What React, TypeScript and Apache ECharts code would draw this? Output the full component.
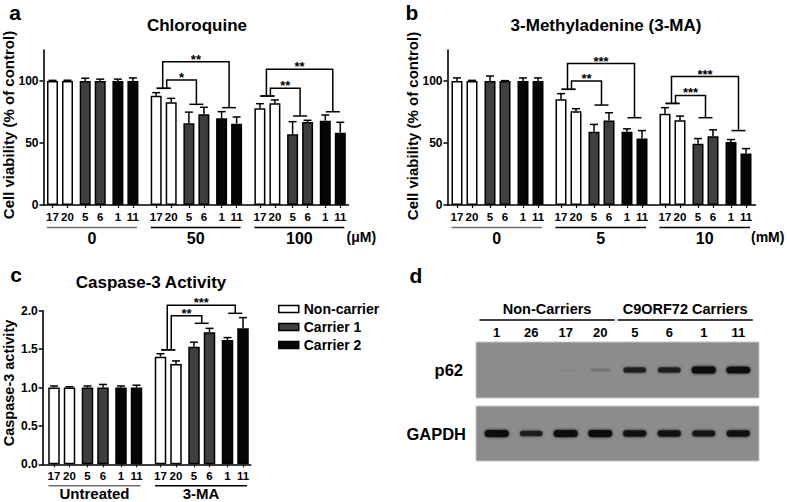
import React, { useEffect, useRef } from "react";
import * as echarts from "echarts";

const FONT = "'Liberation Sans', Arial, Helvetica, sans-serif";

// ---------- data ----------
const cellLines = ["17", "20", "5", "6", "1", "11"];
const genotypes = ["Non-carrier", "Carrier 1", "Carrier 2"];
const genotypeColors = ["#ffffff", "#3f3f3f", "#050505"];

// panel a : Chloroquine (% of control), rows = dose groups, cols = cell lines
const chloroquineDoses = ["0", "50", "100"];
const chloroquineMean = [
  [100, 100, 100, 100, 100, 100],
  [88.1, 82.8, 65.9, 73.1, 69.9, 65.6],
  [78, 82, 57, 66.9, 68, 58.3],
];
const chloroquineSem = [
  [0.5, 0.6, 2.2, 1.5, 1.5, 2.5],
  [2.5, 3.2, 9, 5.7, 5.4, 5.4],
  [3.7, 2.7, 10.2, 1.4, 4.6, 8.4],
];
// [group, target pair, bracket top, left cap, right cap, stars]
const chloroquineSig: [number, number, number, number, number, string][] = [
  [1, 2, 115.6, 94.1, 78.5, "**"],
  [1, 1, 100.8, 94.1, 81.2, "*"],
  [2, 2, 109.4, 87.9, 75.2, "**"],
  [2, 1, 94.1, 87.9, 71.8, "**"],
];

// panel b : 3-MA (% of control)
const maDoses = ["0", "5", "10"];
const maMean = [
  [100, 100, 100, 100, 100, 100],
  [85.2, 75.7, 59, 68.2, 59, 53.6],
  [73.6, 68.4, 49.3, 55.5, 50.9, 41.5],
];
const maSem = [
  [2.5, 0.5, 4, 0.3, 2.5, 2.5],
  [4.6, 1.9, 6, 6.2, 2.4, 6.4],
  [4.9, 3.3, 4.3, 5.1, 1.9, 4],
];
const maSig: [number, number, number, number, number, string][] = [
  [1, 2, 114.1, 93.3, 70.4, "***"],
  [1, 1, 100, 93.3, 80.6, "**"],
  [2, 2, 103.6, 81.9, 60, "***"],
  [2, 1, 88.4, 81.9, 70.4, "***"],
];

// panel c : Caspase-3 activity
const caspaseGroups = ["Untreated", "3-MA"];
const caspaseMean = [
  [1, 1, 1, 1, 1, 1],
  [1.4, 1.306, 1.53, 1.72, 1.62, 1.77],
];
const caspaseSem = [
  [0.02, 0.01, 0.02, 0.04, 0.02, 0.03],
  [0.04, 0.04, 0.06, 0.05, 0.03, 0.14],
];
const caspaseSig: [number, number, number, number, number, string][] = [
  [1, 2, 2.07, 1.49, 1.966, "***"],
  [1, 1, 1.935, 1.49, 1.836, "**"],
];

// panel d : western blot
const blotLanes = ["1", "26", "17", "20", "5", "6", "1", "11"];
const blotGroups = ["Non-Carriers", "C9ORF72 Carriers"];
const p62Band = [0, 0, 0.04, 0.15, 0.72, 0.72, 1, 0.93];
const gapdhBand = [1, 0.72, 1, 0.95, 0.85, 0.85, 0.8, 0.85];

// ---------- layout ----------
type Layout = {
  left: number; top: number; width: number; height: number;
  pad: number; group: number; pair: number; within: number; barW: number; unitShift: number;
  lineOff: number; labelOff: number; labelSize: number;
};
const LA: Layout = { left: 43.5, top: 50, width: 305, height: 155, pad: 9, group: 103.7, pair: 32.7, within: 15, barW: 11, unitShift: -2, lineOff: 22.5, labelOff: 33.5, labelSize: 16 };
const LB: Layout = { left: 447.5, top: 50, width: 308, height: 155, pad: 9.5, group: 104, pair: 33, within: 15, barW: 11, unitShift: -4.5, lineOff: 22.5, labelOff: 33.5, labelSize: 16 };
const LC: Layout = { left: 42.7, top: 310.7, width: 208, height: 153.6, pad: 11.3, group: 106.5, pair: 33.5, within: 15.5, barW: 11.5, unitShift: 0, lineOff: 21.4, labelOff: 29.5, labelSize: 15 };

const barX = (L: Layout, g: number, i: number) =>
  L.pad + g * L.group + Math.floor(i / 2) * L.pair + (i % 2) * L.within;

const bold = (size: number) => `bold ${size}px ${FONT}`;

function buildPanel(
  gi: number, L: Layout, groups: string[], mean: number[][], sem: number[][],
  sig: [number, number, number, number, number, string][],
  yMax: number, yTicks: number[] | null, yFmt: (v: number) => string, unit: string | null,
) {
  const positions: number[] = [];
  groups.forEach((_, g) => cellLines.forEach((_, i) => positions.push(barX(L, g, i))));
  const labelFor = (v: number) => {
    const idx = positions.findIndex((p) => Math.abs(p - v) < 0.5);
    return idx >= 0 ? cellLines[idx % 6] : "";
  };
  const grid = {
    left: L.left, top: L.top, width: L.width, height: L.height,
    containLabel: false, outerBoundsMode: "none",
  };
  const xAxis = {
    gridIndex: gi, type: "value", min: 0, max: L.width,
    axisLine: { show: true, onZero: false, lineStyle: { color: "#000", width: 1.6 } },
    axisTick: { show: true, customValues: positions, length: 3, lineStyle: { color: "#000", width: 1.2 } },
    axisLabel: {
      show: true, customValues: positions, formatter: labelFor, margin: 6,
      fontSize: 11.5, fontWeight: "bold", fontFamily: FONT, color: "#000",
    },
    splitLine: { show: false },
  };
  const yAxis: any = {
    gridIndex: gi, type: "value", min: 0, max: yMax,
    axisLine: { show: true, lineStyle: { color: "#000", width: 1.6 } },
    axisTick: { show: true, length: 4, lineStyle: { color: "#000", width: 1.5 } },
    axisLabel: { formatter: yFmt, margin: 5, fontSize: 12, fontWeight: "bold", fontFamily: FONT, color: "#000" },
    splitLine: { show: false },
  };
  if (yTicks) {
    yAxis.axisTick.customValues = yTicks;
    yAxis.axisLabel.customValues = yTicks;
  } else {
    yAxis.interval = 0.5;
  }

  const series: any[] = [];
  genotypes.forEach((name, k) => {
    const data: number[][] = [];
    groups.forEach((_, g) => {
      [2 * k, 2 * k + 1].forEach((i) => data.push([barX(L, g, i), mean[g][i]]));
    });
    series.push({
      type: "bar", name, xAxisIndex: gi, yAxisIndex: gi, data,
      barWidth: L.barW, barGap: "-100%",
      itemStyle: { color: genotypeColors[k], borderColor: "#000", borderWidth: 1.5 },
      z: 2,
    });
  });

  // error bars
  const errData: number[][] = [];
  groups.forEach((_, g) => cellLines.forEach((_, i) => errData.push([barX(L, g, i), mean[g][i], sem[g][i]])));
  series.push({
    type: "custom", xAxisIndex: gi, yAxisIndex: gi, data: errData, clip: false, z: 4,
    encode: { x: 0, y: 1 },
    renderItem: (_p: any, api: any) => {
      const x = api.value(0), v = api.value(1), e = api.value(2);
      const p0 = api.coord([x, v]);
      const p1 = api.coord([x, v + e]);
      const st = { stroke: "#000", lineWidth: 1.5 };
      return {
        type: "group",
        children: [
          { type: "line", shape: { x1: p0[0], y1: p0[1], x2: p1[0], y2: p1[1] }, style: st },
          { type: "line", shape: { x1: p1[0] - 4, y1: p1[1], x2: p1[0] + 4, y2: p1[1] }, style: st },
        ],
      };
    },
  });

  // significance brackets
  series.push({
    type: "custom", xAxisIndex: gi, yAxisIndex: gi, clip: false, z: 5,
    encode: { x: 0, y: 1 },
    data: sig.map((s) => [barX(L, s[0], 0), s[2]]),
    renderItem: (params: any, api: any) => {
      const [g, t, top, lc, rc, stars] = sig[params.dataIndex];
      const xl = (barX(L, g, 0) + barX(L, g, 1)) / 2;
      const xr = (barX(L, g, 2 * t) + barX(L, g, 2 * t + 1)) / 2;
      const pl = api.coord([xl, lc]);
      const pr = api.coord([xr, rc]);
      const yt = api.coord([xl, top])[1];
      const vx = pl[0] + (t === 1 ? 3 : -1);
      const hw = 7;
      const ls = { stroke: "#000", lineWidth: 1.5, fill: null };
      return {
        type: "group",
        children: [
          { type: "line", shape: { x1: pl[0] - hw, y1: pl[1], x2: pl[0] + hw, y2: pl[1] }, style: ls },
          { type: "line", shape: { x1: pr[0] - hw, y1: pr[1], x2: pr[0] + hw, y2: pr[1] }, style: ls },
          { type: "polyline", shape: { points: [[vx, pl[1]], [vx, yt], [pr[0], yt], [pr[0], pr[1]]] }, style: ls },
          {
            type: "text",
            style: {
              text: stars, x: (vx + pr[0]) / 2, y: yt + 4,
              align: "center", verticalAlign: "bottom", textAlign: "center", textVerticalAlign: "bottom",
              font: bold(13), fill: "#000",
            },
          },
        ],
      };
    },
  });

  // group underline + label
  series.push({
    type: "custom", xAxisIndex: gi, yAxisIndex: gi, clip: false, z: 5,
    encode: { x: 0, y: 1 },
    data: groups.map((_, g) => [(barX(L, g, 0) + barX(L, g, 5)) / 2, 0]),
    renderItem: (params: any, api: any) => {
      const g = params.dataIndex;
      const a = api.coord([barX(L, g, 0) - 5.5, 0]);
      const b = api.coord([barX(L, g, 5) + 4, 0]);
      const y = a[1];
      const children: any[] = [
        {
          type: "line", shape: { x1: a[0], y1: y + L.lineOff, x2: b[0], y2: y + L.lineOff },
          style: { stroke: g === 0 ? "#6e6e6e" : "#000", lineWidth: 1.6 },
        },
        {
          type: "text",
          style: {
            text: groups[g], x: (a[0] + b[0]) / 2, y: y + L.labelOff,
            align: "center", verticalAlign: "middle", textAlign: "center", textVerticalAlign: "middle",
            font: bold(L.labelSize), fill: "#000",
          },
        },
      ];
      if (unit && g === groups.length - 1) {
        const e = api.coord([L.width, 0]);
        children.push({
          type: "text",
          style: {
            text: unit, x: e[0] + L.unitShift, y: y + L.labelOff - 2,
            align: "left", verticalAlign: "middle", textAlign: "left", textVerticalAlign: "middle",
            font: bold(14), fill: "#000",
          },
        });
      }
      return { type: "group", children };
    },
  });

  return { grid, xAxis, yAxis, series };
}

export default function App() {
  const ref = useRef<HTMLDivElement>(null);
  useEffect(() => {
    document.body.style.margin = "0";
    if (!ref.current) return;
    const chart = echarts.init(ref.current, undefined, { renderer: "svg" });

    const pa = buildPanel(0, LA, chloroquineDoses, chloroquineMean, chloroquineSem, chloroquineSig,
      125, [0, 50, 100], (v) => String(v), "(\u03bcM)");
    const pb = buildPanel(1, LB, maDoses, maMean, maSem, maSig,
      125, [0, 50, 100], (v) => String(v), "(mM)");
    const pc = buildPanel(2, LC, caspaseGroups, caspaseMean, caspaseSem, caspaseSig,
      2, null, (v) => v.toFixed(1), null);

    const blotGridBase = { left: 476, width: 283, show: true, backgroundColor: "#8c8c8c", borderColor: "#c6c6c6", borderWidth: 1, containLabel: false, outerBoundsMode: "none" };
    const laneIdx = blotLanes.map((_, i) => i);

    const bandSeries = (gi: number, vals: number[]) => ({
      type: "custom", xAxisIndex: gi, yAxisIndex: gi, clip: false, z: 3,
      encode: { x: 0, y: 1 },
      data: vals.map((v, i) => [i, 0, v]),
      renderItem: (_p: any, api: any) => {
        const v = api.value(2);
        const c = api.coord([api.value(0), 0]);
        const w = 19 + 5 * v;
        const h = 2.5 + 4.5 * v;
        const col = `rgba(14,14,14,${Math.min(1, v * 1.05)})`;
        return {
          type: "rect",
          shape: { x: c[0] - w / 2, y: c[1] - h / 2, width: w, height: h, r: h / 2 },
          style: { fill: col, shadowBlur: 3, shadowColor: col },
        };
      },
    });

    const option: any = {
      animation: false,
      textStyle: { fontFamily: FONT, fontWeight: "bold", color: "#000" },
      grid: [
        pa.grid, pb.grid, pc.grid,
        { ...blotGridBase, top: 342, height: 56 },
        { ...blotGridBase, top: 406, height: 55 },
      ],
      xAxis: [
        pa.xAxis, pb.xAxis, pc.xAxis,
        {
          gridIndex: 3, type: "value", min: -0.6, max: 7.6, position: "top",
          axisLine: { show: false }, axisTick: { show: false }, splitLine: { show: false },
          axisLabel: {
            customValues: laneIdx, formatter: (v: number) => blotLanes[Math.round(v)] ?? "",
            margin: 3, fontSize: 13, fontWeight: "bold", fontFamily: FONT, color: "#000",
          },
        },
        { gridIndex: 4, type: "value", min: -0.6, max: 7.6, show: false, splitLine: { show: false } },
      ],
      yAxis: [
        pa.yAxis, pb.yAxis, pc.yAxis,
        {
          gridIndex: 3, type: "category", data: ["p62"],
          axisLine: { show: false }, axisTick: { show: false },
          axisLabel: { margin: 13, fontSize: 16.5, fontWeight: "bold", fontFamily: FONT, color: "#000" },
        },
        {
          gridIndex: 4, type: "category", data: ["GAPDH"],
          axisLine: { show: false }, axisTick: { show: false },
          axisLabel: { margin: 10, fontSize: 16.5, fontWeight: "bold", fontFamily: FONT, color: "#000" },
        },
      ],
      legend: {
        orient: "vertical", left: 273, top: 297, itemWidth: 20, itemHeight: 7, itemGap: 4,
        icon: "rect",
        textStyle: { fontSize: 14, fontWeight: "bold", fontFamily: FONT, color: "#000" },
        data: genotypes.map((name, k) => ({
          name, icon: "rect",
          itemStyle: { color: genotypeColors[k], borderColor: "#000", borderWidth: 1.5 },
        })),
      },
      series: [
        ...pa.series, ...pb.series, ...pc.series,
        bandSeries(3, p62Band),
        bandSeries(4, gapdhBand),
        {
          type: "custom", xAxisIndex: 3, yAxisIndex: 3, clip: false, z: 5,
          encode: { x: 0, y: 1 },
          data: blotGroups.map((_, k) => [k * 4 + 1.5, 0]),
          renderItem: (params: any, api: any) => {
            const k = params.dataIndex;
            const top = params.coordSys.y;
            const a = api.coord([k * 4 - 0.5, 0])[0];
            const b = api.coord([k * 4 + 3 + 0.42, 0])[0];
            return {
              type: "group",
              children: [
                { type: "line", shape: { x1: a, y1: top - 22, x2: b, y2: top - 22 }, style: { stroke: "#000", lineWidth: 1.6 } },
                {
                  type: "text",
                  style: {
                    text: blotGroups[k], x: (a + b) / 2, y: top - 33,
                    align: "center", verticalAlign: "middle", textAlign: "center", textVerticalAlign: "middle",
                    font: bold(14.5), fill: "#000",
                  },
                },
              ],
            };
          },
        },
      ],
      graphic: [
        { type: "text", x: 15, y: 12.5, style: { text: "a", font: bold(21), fill: "#000", textAlign: "center", textVerticalAlign: "middle" } },
        { type: "text", x: 412, y: 12.5, style: { text: "b", font: bold(21), fill: "#000", textAlign: "center", textVerticalAlign: "middle" } },
        { type: "text", x: 16, y: 274, style: { text: "c", font: bold(21), fill: "#000", textAlign: "center", textVerticalAlign: "middle" } },
        { type: "text", x: 416, y: 275, style: { text: "d", font: bold(21), fill: "#000", textAlign: "center", textVerticalAlign: "middle" } },
        { type: "text", x: 197, y: 25, style: { text: "Chloroquine", font: bold(17), fill: "#000", textAlign: "center", textVerticalAlign: "middle" } },
        { type: "text", x: 606, y: 25, style: { text: "3-Methyladenine (3-MA)", font: bold(17), fill: "#000", textAlign: "center", textVerticalAlign: "middle" } },
        { type: "text", x: 151, y: 282, style: { text: "Caspase-3 Activity", font: bold(17), fill: "#000", textAlign: "center", textVerticalAlign: "middle" } },
        { type: "text", x: 8, y: 125, rotation: Math.PI / 2, style: { text: "Cell viability (% of control)", font: bold(15), fill: "#000", textAlign: "center", textVerticalAlign: "middle" } },
        { type: "text", x: 412, y: 126, rotation: Math.PI / 2, style: { text: "Cell viability (% of control)", font: bold(15), fill: "#000", textAlign: "center", textVerticalAlign: "middle" } },
        { type: "text", x: 9, y: 383, rotation: Math.PI / 2, style: { text: "Caspase-3 activity", font: bold(14.5), fill: "#000", textAlign: "center", textVerticalAlign: "middle" } },
      ],
    };
    chart.setOption(option);
    return () => chart.dispose();
  }, []);
  return <div ref={ref} style={{ width: 787, height: 502, background: "#fff" }} />;
}
